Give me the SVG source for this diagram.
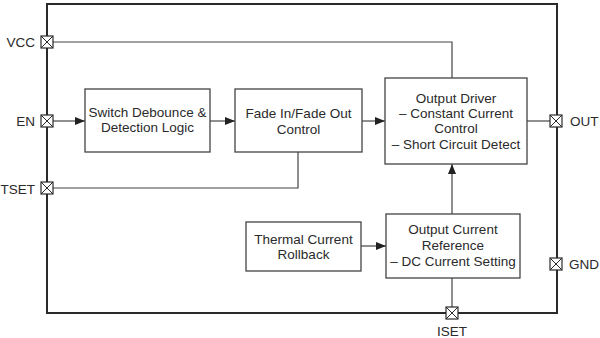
<svg xmlns="http://www.w3.org/2000/svg" width="600" height="338" viewBox="0 0 600 338">
<defs>
<style>
.frame{fill:none;stroke:#2a2a2a;stroke-width:2}
.box{fill:#fff;stroke:#444;stroke-width:1.3}
.wire{fill:none;stroke:#444;stroke-width:1.2}
.pin{fill:#fff;stroke:#2a2a2a;stroke-width:1.2}
text{font-family:"Liberation Sans",Arial,sans-serif;font-size:13.5px;fill:#2a2a2a}
.c{text-anchor:middle}
.r{text-anchor:end}
</style>
<marker id="arr" viewBox="0 0 10 8" refX="10" refY="4" markerWidth="10" markerHeight="8" markerUnits="userSpaceOnUse" orient="auto">
<path d="M0,0 L10,4 L0,8 Z" fill="#222"/>
</marker>
<g id="pinshape">
<rect class="pin" x="-6" y="-6" width="12" height="12"/>
<path d="M-6,-6 L6,6 M6,-6 L-6,6" stroke="#2a2a2a" stroke-width="1"/>
</g>
</defs>
<rect width="600" height="338" fill="#fff"/>
<rect class="frame" x="47" y="4" width="510" height="309"/>

<g id="connectors">
<path class="wire" d="M53,42 H452 V78"/>
<path class="wire" d="M53,121 H85" marker-end="url(#arr)"/>
<path class="wire" d="M210,121 H235" marker-end="url(#arr)"/>
<path class="wire" d="M362,121 H385" marker-end="url(#arr)"/>
<path class="wire" d="M53,188 H298 V152"/>
<path class="wire" d="M527,121 H550"/>
<path class="wire" d="M361,246 H386" marker-end="url(#arr)"/>
<path class="wire" d="M452,214 V164" marker-end="url(#arr)"/>
<path class="wire" d="M452,278 V307"/>
</g>

<g id="switch">
<rect class="box" x="85" y="89" width="125" height="63"/>
<text class="c" x="147.5" y="117">Switch Debounce &amp;</text>
<text class="c" x="147.5" y="131.5">Detection Logic</text>
</g>
<g id="fade">
<rect class="box" x="235" y="89" width="127" height="63"/>
<text class="c" x="298.5" y="118">Fade In/Fade Out</text>
<text class="c" x="298.5" y="133.5">Control</text>
</g>
<g id="driver">
<rect class="box" x="385" y="78" width="142" height="86"/>
<text class="c" x="456" y="103">Output Driver</text>
<text class="c" x="456" y="118">– Constant Current</text>
<text class="c" x="456" y="133">Control</text>
<text class="c" x="456" y="148.5">– Short Circuit Detect</text>
</g>
<g id="thermal">
<rect class="box" x="246" y="222" width="115" height="49"/>
<text class="c" x="303.5" y="244">Thermal Current</text>
<text class="c" x="303.5" y="259">Rollback</text>
</g>
<g id="ocr">
<rect class="box" x="386" y="214" width="134" height="64"/>
<text class="c" x="453" y="234">Output Current</text>
<text class="c" x="453" y="250">Reference</text>
<text class="c" x="453" y="266">– DC Current Setting</text>
</g>

<g id="pin-vcc"><use href="#pinshape" x="47" y="42"/><text class="r" x="35" y="47">VCC</text></g>
<g id="pin-en"><use href="#pinshape" x="47" y="121"/><text class="r" x="35" y="126">EN</text></g>
<g id="pin-tset"><use href="#pinshape" x="47" y="188"/><text class="r" x="35" y="193.5">TSET</text></g>
<g id="pin-out"><use href="#pinshape" x="556" y="121"/><text x="570" y="126">OUT</text></g>
<g id="pin-gnd"><use href="#pinshape" x="556" y="264"/><text x="569" y="269">GND</text></g>
<g id="pin-iset"><use href="#pinshape" x="452" y="313"/><text class="c" x="452" y="336">ISET</text></g>
</svg>
